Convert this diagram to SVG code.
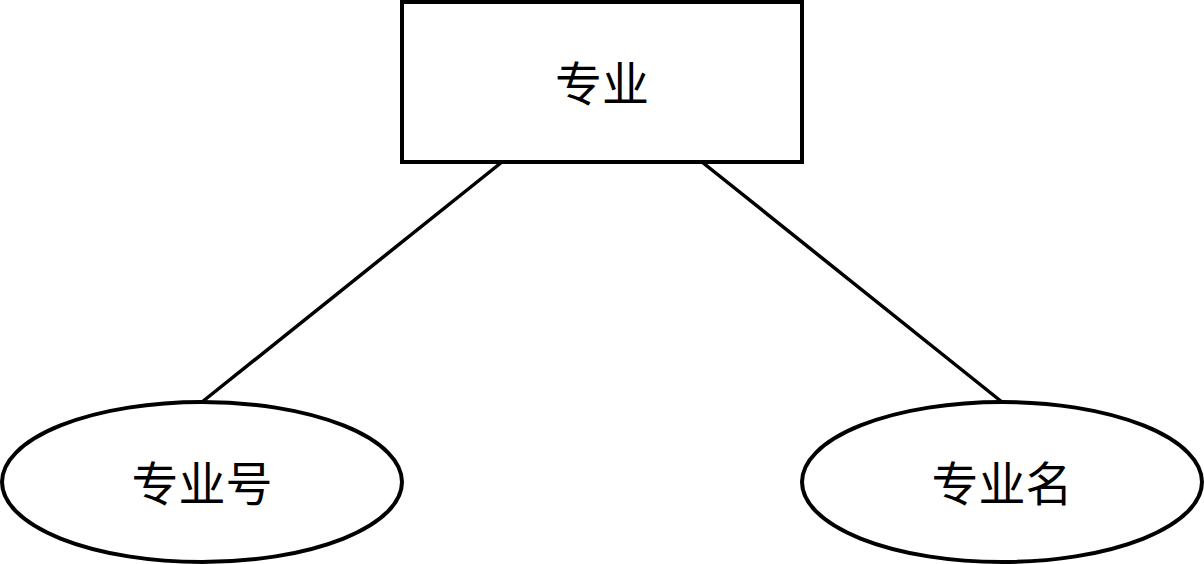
<svg xmlns="http://www.w3.org/2000/svg" width="1204" height="564" viewBox="0 0 1204 564">
<style>
.shape{fill:#ffffff;stroke:#000000;stroke-width:4}
.edge{fill:none;stroke:#000000;stroke-width:3.5}
.label{font-family:"Noto Sans CJK SC","Noto Sans",sans-serif;font-size:47px;fill:#000000;text-anchor:middle;dominant-baseline:central}
</style>
<rect width="1204" height="564" fill="#ffffff"/>
<g id="connectors">
<line class="edge" x1="502" y1="162" x2="202" y2="402"/>
<line class="edge" x1="702" y1="162" x2="1002" y2="402"/>
</g>
<g id="node-major">
<rect class="shape" x="402" y="2" width="400" height="160"/>
<text class="label" x="602" y="80">专业</text>
</g>
<g id="node-major-no">
<ellipse class="shape" cx="202" cy="482" rx="200" ry="80"/>
<text class="label" x="202" y="480">专业号</text>
</g>
<g id="node-major-name">
<ellipse class="shape" cx="1002" cy="482" rx="200" ry="80"/>
<text class="label" x="1002" y="480">专业名</text>
</g>
</svg>
